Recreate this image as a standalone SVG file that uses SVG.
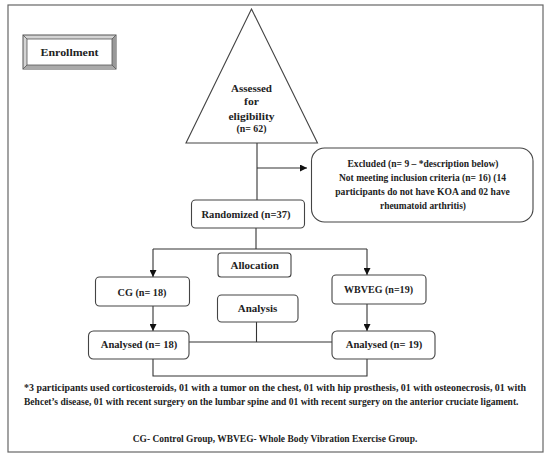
<svg xmlns="http://www.w3.org/2000/svg" width="550" height="458" viewBox="0 0 550 458">
<defs>
<style>
.t{font-family:"Liberation Serif","Times New Roman",serif;font-weight:bold;fill:#222;font-size:10.5px;text-anchor:middle}
.s{text-anchor:start;font-size:10px}
.box{fill:#fff;stroke:#444;stroke-width:1.1}
.ln{fill:none;stroke:#333;stroke-width:1.1}
</style>
<marker id="ah" viewBox="0 0 10 10" refX="10" refY="5" markerWidth="7" markerHeight="7" orient="auto" markerUnits="userSpaceOnUse">
<path d="M0,0 L10,5 L0,10 z" fill="#111"/>
</marker>
</defs>
<rect width="550" height="458" fill="#fff"/>
<rect x="8" y="5" width="535" height="447" fill="none" stroke="#666" stroke-width="1.2"/>

<g id="connectors">
<path class="ln" d="M257,143 V200"/>
<path class="ln" d="M257,168 H307" marker-end="url(#ah)"/>
<path class="ln" d="M256,228 V249"/>
<path class="ln" d="M153,249 H367"/>
<path class="ln" d="M153,249 V277" marker-end="url(#ah)"/>
<path class="ln" d="M367,249 V275" marker-end="url(#ah)"/>
<path class="ln" d="M153,306 V331" marker-end="url(#ah)"/>
<path class="ln" d="M367,304 V331" marker-end="url(#ah)"/>
<path class="ln" d="M189,342 H332"/>
<path class="ln" d="M256.5,322 V342"/>
<path class="ln" d="M153,359 V376 H367 V359"/>
</g>

<g id="enrollment">
<rect x="23" y="35" width="93" height="34" fill="#d4d4d4" stroke="#555" stroke-width="1"/>
<polygon points="112,39 116,35 116,69 112,65" fill="#999"/>
<polygon points="27,65 23,69 116,69 112,65" fill="#aaa"/>
<rect x="27" y="39" width="85" height="26" fill="#fff" stroke="#555" stroke-width="0.8"/>
<path d="M23,35 L27,39 M116,35 L112,39 M23,69 L27,65 M116,69 L112,65" stroke="#555" stroke-width="0.8"/>
<text class="t" x="69.5" y="55.5" textLength="58" lengthAdjust="spacingAndGlyphs">Enrollment</text>
</g>

<g id="assessed">
<polygon points="251.5,9 317.5,143 186,143" class="box"/>
<text class="t" x="251.5" y="91.5" textLength="41" lengthAdjust="spacingAndGlyphs">Assessed</text>
<text class="t" x="251.5" y="104.5" textLength="15" lengthAdjust="spacingAndGlyphs">for</text>
<text class="t" x="251.5" y="119.5" textLength="46" lengthAdjust="spacingAndGlyphs">eligibility</text>
<text class="t" x="251.5" y="131.5" textLength="30" lengthAdjust="spacingAndGlyphs">(n= 62)</text>
</g>

<g id="excluded">
<rect x="311.5" y="148" width="221.5" height="74" rx="13" class="box"/>
<text class="t" x="423" y="167" textLength="151" lengthAdjust="spacingAndGlyphs">Excluded (n= 9 – *description below)</text>
<text class="t" x="422.5" y="181" textLength="167" lengthAdjust="spacingAndGlyphs">Not meeting inclusion criteria (n= 16) (14</text>
<text class="t" x="422.5" y="195" textLength="174.5" lengthAdjust="spacingAndGlyphs">participants do not have KOA and 02 have</text>
<text class="t" x="423" y="209" textLength="86" lengthAdjust="spacingAndGlyphs">rheumatoid arthritis)</text>
</g>

<g id="randomized">
<rect x="191.5" y="200" width="113" height="28" rx="4" class="box"/>
<text class="t" x="246" y="217.5" textLength="89" lengthAdjust="spacingAndGlyphs">Randomized (n=37)</text>
</g>

<g id="allocation">
<rect x="218" y="253" width="73" height="24" rx="3" class="box"/>
<text class="t" x="254.7" y="268.5" textLength="48.5" lengthAdjust="spacingAndGlyphs">Allocation</text>
</g>

<g id="cg">
<rect x="95.5" y="277" width="94" height="29" rx="4" class="box"/>
<text class="t" x="142" y="295.5" textLength="49" lengthAdjust="spacingAndGlyphs">CG (n= 18)</text>
</g>

<g id="wbveg">
<rect x="332" y="275" width="94" height="29" rx="4" class="box"/>
<text class="t" x="378.5" y="292.5" textLength="69" lengthAdjust="spacingAndGlyphs">WBVEG (n=19)</text>
</g>

<g id="analysis">
<rect x="217.5" y="295" width="80.5" height="27" rx="4" class="box"/>
<text class="t" x="257.5" y="311.5" textLength="39.5" lengthAdjust="spacingAndGlyphs">Analysis</text>
</g>

<g id="analysed18">
<rect x="88.5" y="331" width="100.5" height="28" rx="5" class="box"/>
<text class="t" x="139" y="347.5" textLength="76.5" lengthAdjust="spacingAndGlyphs">Analysed (n= 18)</text>
</g>

<g id="analysed19">
<rect x="332" y="331" width="103" height="28" rx="5" class="box"/>
<text class="t" x="384" y="347.5" textLength="76.5" lengthAdjust="spacingAndGlyphs">Analysed (n= 19)</text>
</g>

<g id="notes">
<text class="t s" x="24" y="390.5" textLength="502" lengthAdjust="spacingAndGlyphs">*3 participants used corticosteroids, 01 with a tumor on the chest, 01 with hip prosthesis, 01 with osteonecrosis, 01 with</text>
<text class="t s" x="24" y="404.5" textLength="494.5" lengthAdjust="spacingAndGlyphs">Behcet’s disease, 01 with recent surgery on the lumbar spine and 01 with recent surgery on the anterior cruciate ligament.</text>
<text class="t" x="275" y="442" style="font-size:10px" textLength="284.5" lengthAdjust="spacingAndGlyphs">CG- Control Group, WBVEG- Whole Body Vibration Exercise Group.</text>
</g>
</svg>
